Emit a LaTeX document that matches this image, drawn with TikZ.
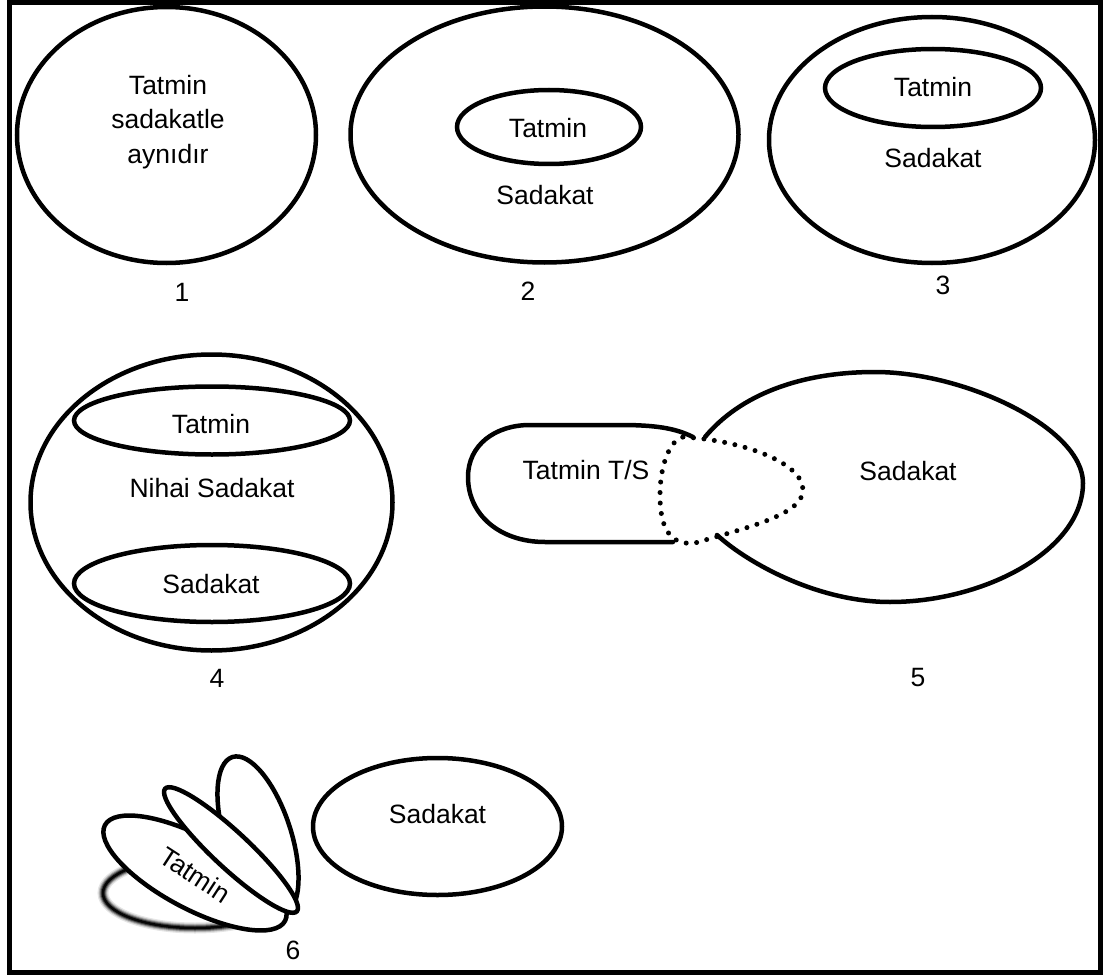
\documentclass[tikz,border=0pt]{standalone}
\usepackage{fontspec}
\setmainfont{Liberation Sans}
\usetikzlibrary{shapes.geometric}

\tikzset{
  ring/.style={ellipse, draw=black, line width=4.5pt, fill=white, inner sep=0pt, outer sep=0pt},
  blobline/.style={draw=black, line width=4.5pt, line cap=round, line join=round},
  dotline/.style={draw=black, line width=5pt, line cap=round, dash pattern=on 0pt off 10.5pt},
  txt/.style={font=\fontsize{26.5}{34.5}\selectfont, inner sep=0pt, outer sep=0pt, align=center},
  framebox/.style={draw=black, line width=5pt},
}

\begin{document}
\begin{tikzpicture}[x=1pt, y=-1pt]
\useasboundingbox (0,0) rectangle (1109,979);

% outer frame
\draw[framebox] (9.5,2.5) rectangle (1100,972.5);

% ---- 1: satisfaction equals loyalty
\node[ring, minimum width=299pt, minimum height=256pt] (p1) at (166.5,135) {};
\node[txt] (p1t) at (168,122) {Tatmin\\sadakatle\\aynıdır};
\node[txt] (n1) at (182,292) {1};

% ---- 2: satisfaction inside loyalty
\node[ring, minimum width=388pt, minimum height=256pt] (p2o) at (544.5,134.5) {};
\node[ring, minimum width=184pt, minimum height=74pt] (p2i) at (549,127) {};
\node[txt] (p2it) at (548,128) {Tatmin};
\node[txt] (p2ot) at (545,195) {Sadakat};
\node[txt] (n2) at (528,291) {2};

% ---- 3: satisfaction at the top of loyalty
\node[ring, minimum width=326pt, minimum height=246pt] (p3o) at (932,140) {};
\node[ring, minimum width=216pt, minimum height=78pt] (p3i) at (933,88) {};
\node[txt] (p3it) at (933,87.5) {Tatmin};
\node[txt] (p3ot) at (933,158) {Sadakat};
\node[txt] (n3) at (943,285) {3};

% ---- 4: ultimate loyalty
\node[ring, minimum width=362pt, minimum height=296pt] (p4o) at (211.5,502.5) {};
\node[ring, minimum width=276pt, minimum height=68pt] (p4a) at (212,420.5) {};
\node[ring, minimum width=276pt, minimum height=77pt] (p4b) at (212,583.5) {};
\node[txt] (p4at) at (211,424) {Tatmin};
\node[txt] (p4ot) at (212,488) {Nihai Sadakat};
\node[txt] (p4bt) at (211,584) {Sadakat};
\node[txt] (n4) at (217,678) {4};

% ---- 5: overlapping regions
\coordinate (a1) at (693,437);
\coordinate (a2) at (673,542);
\coordinate (b1) at (705,437);
\coordinate (b2) at (717,535);
\draw[blobline] (a1) .. controls (675,428) and (655,425) .. (620,425) -- (530,425)
  .. controls (495,425) and (468,445) .. (468,477)
  .. controls (468,515) and (500,542) .. (545,542) -- (a2);
\draw[blobline] (b1) .. controls (740,395) and (800,372) .. (875,372)
  .. controls (965,372) and (1083,428) .. (1083,483)
  .. controls (1083,550) and (985,602) .. (890,602)
  .. controls (820,602) and (750,565) .. (b2);
\draw[dotline] (683,437) .. controls (740,440) and (803,462) .. (803,490)
  .. controls (803,515) and (745,528) .. (695,543)
  .. controls (668,546) and (660,525) .. (660,495)
  .. controls (660,465) and (670,440) .. (683,437);
\node[txt] (p5l) at (586,470) {Tatmin T/S};
\node[txt] (p5r) at (908,471) {Sadakat};
\node[txt] (n5) at (918,678) {5};

% ---- 6: satisfaction leaves beside loyalty
% soft shadow under the leaves
\foreach \w/\o in {11/0.10, 8.5/0.18, 6.5/0.3, 4.5/0.5, 2.5/0.9}
  \draw[line width=\w pt, black, opacity=\o] (195,893) ellipse [x radius=92, y radius=35];
\node[ring, minimum width=66pt, minimum height=166pt, rotate=18] (p6c) at (258,836) {};
\node[ring, minimum width=204pt, minimum height=72pt, rotate=-28] (p6a) at (195,873) {};
\node[ring, minimum width=180pt, minimum height=36pt, rotate=-43] (p6b) at (231,850) {};
\node[txt, rotate=-33] (p6at) at (195,875) {Tatmin};
\node[ring, minimum width=249pt, minimum height=137pt] (p6s) at (437.5,826.5) {};
\node[txt] (p6st) at (437.5,814) {Sadakat};
\node[txt] (n6) at (293,950) {6};
\end{tikzpicture}
\end{document}
